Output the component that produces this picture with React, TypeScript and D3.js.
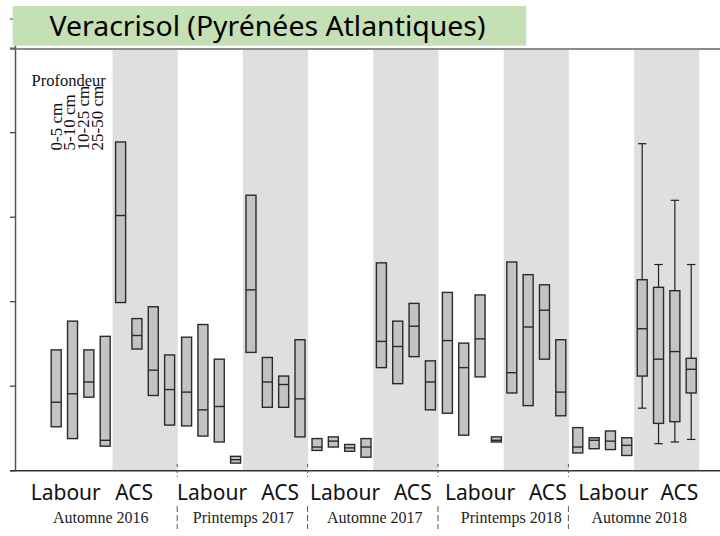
import React from "react";
import * as d3 from "d3";

const seasons = ["Automne 2016", "Printemps 2017", "Automne 2017", "Printemps 2018", "Automne 2018"];
const practices = ["Labour", "ACS"];
const depths = ["0-5 cm", "5-10 cm", "10-25 cm", "25-50 cm"];
const yTicks = [0, 1, 2, 3, 4, 5];

// order: season -> practice (Labour, ACS) -> depth
const q3Values = [
  1.43, 1.77, 1.43, 1.59, 3.89, 1.8, 1.94, 1.37,
  1.58, 1.73, 1.32, 0.17, 3.26, 1.34, 1.12, 1.55,
  0.38, 0.4, 0.31, 0.38, 2.46, 1.77, 1.98, 1.3,
  2.11, 1.51, 2.08, 0.4, 2.47, 2.32, 2.2, 1.55,
  0.51, 0.39, 0.47, 0.39, 2.26, 2.17, 2.13, 1.33,
];
const medianValues = [
  0.81, 0.91, 1.05, 0.36, 3.02, 1.6, 1.19, 0.96,
  0.93, 0.72, 0.76, 0.13, 2.14, 1.05, 1.02, 0.85,
  0.28, 0.35, 0.27, 0.28, 1.53, 1.47, 1.71, 1.05,
  1.54, 1.22, 1.56, 0.36, 1.16, 1.7, 1.9, 0.93,
  0.28, 0.36, 0.35, 0.3, 1.68, 1.32, 1.41, 1.2,
];
const q1Values = [
  0.52, 0.38, 0.87, 0.29, 1.99, 1.44, 0.89, 0.54,
  0.53, 0.41, 0.34, 0.09, 1.4, 0.75, 0.75, 0.4,
  0.24, 0.28, 0.23, 0.16, 1.22, 1.03, 1.35, 0.72,
  0.68, 0.42, 1.11, 0.34, 0.92, 0.77, 1.32, 0.65,
  0.21, 0.26, 0.25, 0.18, 1.12, 0.56, 0.58, 0.92,
];
const N = null;
const whiskerHigh = [
  N, N, N, N, N, N, N, N,
  N, N, N, N, N, N, N, N,
  N, N, N, N, N, N, N, N,
  N, N, N, N, N, N, N, N,
  N, N, N, N, 3.87, 2.44, 3.2, 2.44,
];
const whiskerLow = [
  N, N, N, N, N, N, N, N,
  N, N, N, N, N, N, N, N,
  N, N, N, N, N, N, N, N,
  N, N, N, N, N, N, N, N,
  N, N, N, N, 0.74, 0.32, 0.34, 0.37,
];

// layout
const labourLabelX = [30.7, 177, 310, 445, 578.3];
const acsLabelEndX = [153, 299, 431.7, 566.7, 698.3];
const seasonLabelX = [100.8, 243.3, 374.8, 511.3, 639.3];

export default function App() {
  const y = d3.scaleLinear().domain([0, 5]).range([470.7, 48.2]);
  const xGroup = d3.scaleLinear().domain([0, seasons.length]).range([47.3, 699.3]);
  const groupW = xGroup(1) - xGroup(0);
  const xPractice = d3.scaleBand<string>().domain(practices).range([0, groupW]);
  const xDepth = d3.scalePoint<string>().domain(depths).range([-24.5, 24.5]);
  const boxW = 10;

  const boxes: any[] = [];
  seasons.forEach((s, si) => {
    practices.forEach((p, pi) => {
      depths.forEach((d, di) => {
        const idx = si * 8 + pi * 4 + di;
        const cx = xGroup(si) + (xPractice(p) as number) + xPractice.bandwidth() / 2 + (xDepth(d) as number) + (pi === 0 ? 0.8 : 0);
        boxes.push({
          key: idx,
          cx,
          q1: q1Values[idx],
          med: medianValues[idx],
          q3: q3Values[idx],
          wh: whiskerHigh[idx],
          wl: whiskerLow[idx],
        });
      });
    });
  });

  const boxStroke = "#2a2a2a";

  return (
    <svg width={720} height={536} style={{ position: "absolute", left: 0, top: 0, display: "block", background: "#fff" }}>
      {/* ACS shaded bands */}
      {seasons.map((s, si) => (
        <rect
          key={"band" + si}
          x={xGroup(si) + (xPractice("ACS") as number)}
          y={50}
          width={xPractice.bandwidth()}
          height={y(0) - 50}
          fill="#dfdfdf"
        />
      ))}

      {/* axes */}
      <line x1={15.5} x2={15.5} y1={19} y2={y(0)} stroke="#555" strokeWidth={1.5} />
      <line x1={10} x2={15.5} y1={19} y2={19} stroke="#555" strokeWidth={1.2} />
      {yTicks.map((t) => (
        <line key={"yt" + t} x1={10} x2={15.5} y1={y(t)} y2={y(t)} stroke="#444" strokeWidth={1.3} />
      ))}
      <line x1={10} x2={720} y1={49} y2={49} stroke="#666" strokeWidth={1.5} />
      <line x1={10} x2={720} y1={y(0)} y2={y(0)} stroke="#333" strokeWidth={1.5} />

      {/* boxes */}
      {boxes.map((b) => (
        <g key={"box" + b.key}>
          {b.wh != null && (
            <g stroke="#222" strokeWidth={1.2}>
              <line x1={b.cx} x2={b.cx} y1={y(b.wh)} y2={y(b.q3)} />
              <line x1={b.cx} x2={b.cx} y1={y(b.q1)} y2={y(b.wl)} />
              <line x1={b.cx - 4.2} x2={b.cx + 4.2} y1={y(b.wh)} y2={y(b.wh)} />
              <line x1={b.cx - 4.2} x2={b.cx + 4.2} y1={y(b.wl)} y2={y(b.wl)} />
            </g>
          )}
          <rect
            x={b.cx - boxW / 2}
            y={y(b.q3)}
            width={boxW}
            height={y(b.q1) - y(b.q3)}
            fill="#c3c3c3"
            stroke={boxStroke}
            strokeWidth={1.4}
          />
          <line x1={b.cx - boxW / 2} x2={b.cx + boxW / 2} y1={y(b.med)} y2={y(b.med)} stroke={boxStroke} strokeWidth={1.4} />
        </g>
      ))}

      {/* group dividers */}
      {seasons.slice(1).map((s, i) => {
        const x = xGroup(i + 1) - 0.5;
        return (
          <g key={"div" + i} stroke="#555" strokeWidth={1}>
            <line x1={x} x2={x} y1={464} y2={477} strokeDasharray="3,3" />
            <line x1={x} x2={x} y1={506} y2={529} strokeDasharray="6,3" />
          </g>
        );
      })}

      {/* x labels */}
      {seasons.map((s, si) => (
        <g key={"xl" + si} fontFamily="'Noto Sans', sans-serif" fontSize={21} fill="#111">
          <text x={labourLabelX[si]} y={500}>{practices[0]}</text>
          <text x={acsLabelEndX[si]} y={500} textAnchor="end">{practices[1]}</text>
        </g>
      ))}
      {seasons.map((s, si) => (
        <text
          key={"sl" + si}
          x={seasonLabelX[si]}
          y={523}
          textAnchor="middle"
          fontFamily="'Liberation Serif', 'Times New Roman', serif"
          fontSize={16}
          fill="#222"
        >
          {s}
        </text>
      ))}

      {/* legend */}
      <text x={31.5} y={86} fontFamily="'Liberation Serif', serif" fontSize={16.5} fill="#111">Profondeur</text>
      {depths.map((d, i) => (
        <text
          key={"lg" + i}
          transform={`translate(${61.5 + i * 13.9},150.5) rotate(-90)`}
          fontFamily="'Liberation Serif', serif"
          fontSize={17}
          fill="#111"
        >
          {d}
        </text>
      ))}

      {/* title */}
      <rect x={12.7} y={6} width={513.5} height={39.7} fill="#c5e0b4" />
      <text x={49.5} y={36} fontFamily="'Noto Sans', sans-serif" fontSize={28} fill="#000" textLength={436} lengthAdjust="spacingAndGlyphs">
        Veracrisol (Pyrénées Atlantiques)
      </text>
    </svg>
  );
}
